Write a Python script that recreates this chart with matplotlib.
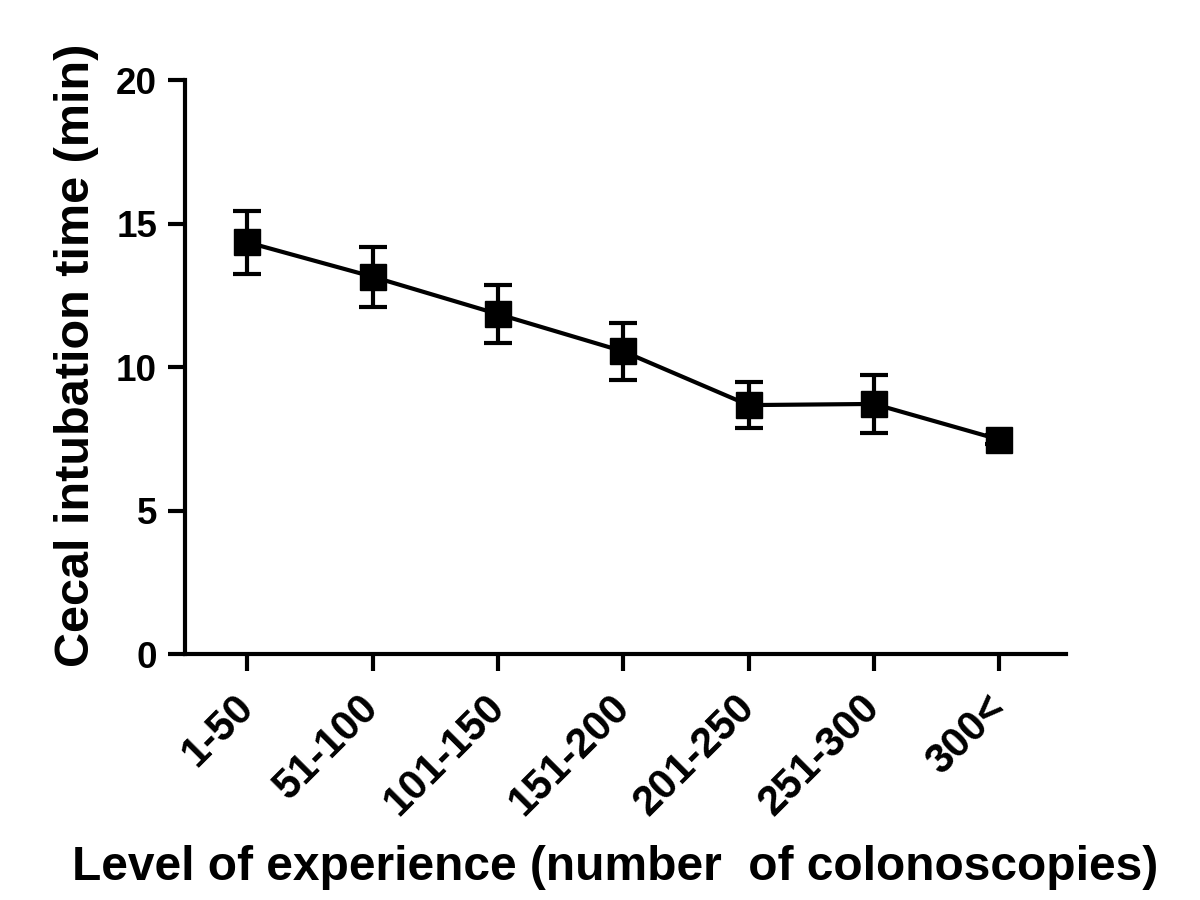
import matplotlib
matplotlib.use("Agg")
import matplotlib.pyplot as plt
from matplotlib.transforms import ScaledTranslation

categories = ["1-50", "51-100", "101-150", "151-200", "201-250", "251-300", "300<"]
means = [14.35, 13.15, 11.85, 10.55, 8.68, 8.72, 7.48]
errors = [1.1, 1.05, 1.0, 1.0, 0.8, 1.0, 0.15]
yticks = [0, 5, 10, 15, 20]

plt.rcParams['font.family'] = ['Liberation Sans', 'DejaVu Sans']
plt.rcParams['font.weight'] = 'bold'

fig = plt.figure(figsize=(12, 9), dpi=100)
ax = fig.add_axes([0.154, 0.273, 0.734, 0.638])

x = list(range(len(categories)))
ax.errorbar(x, means, yerr=errors, color='black', lw=3, marker='s', markersize=19,
            capsize=10, capthick=3, elinewidth=3)

ax.set_xlim(-0.5, 6.53)
ax.set_ylim(0, 20)
ax.set_yticks(yticks)
ax.set_xticks(x)
ax.set_xticklabels(categories, rotation=45, ha='right', rotation_mode='anchor')
for s in ['top', 'right']:
    ax.spines[s].set_visible(False)
for s in ['left', 'bottom']:
    ax.spines[s].set_linewidth(3)
ax.tick_params(axis='both', direction='out', length=12, width=3)
ax.tick_params(axis='y', labelsize=26.5, pad=8)
ax.tick_params(axis='x', labelsize=30, pad=12)
offset = ScaledTranslation(-14 / 100, 0, fig.dpi_scale_trans)
for lab in ax.get_xticklabels():
    lab.set_fontweight('bold')
    lab.set_transform(lab.get_transform() + offset)
for lab in ax.get_yticklabels():
    lab.set_fontweight('bold')

ax.set_ylabel("Cecal intubation time (min)", fontsize=35, fontweight='bold')
ax.set_xlabel("Level of experience (number  of colonoscopies)", fontsize=34.5, fontweight='bold')
ax.yaxis.set_label_coords(-0.097, 0.521)
ax.xaxis.set_label_coords(0.489, -0.332)

fig.savefig("out.png", dpi=100)
